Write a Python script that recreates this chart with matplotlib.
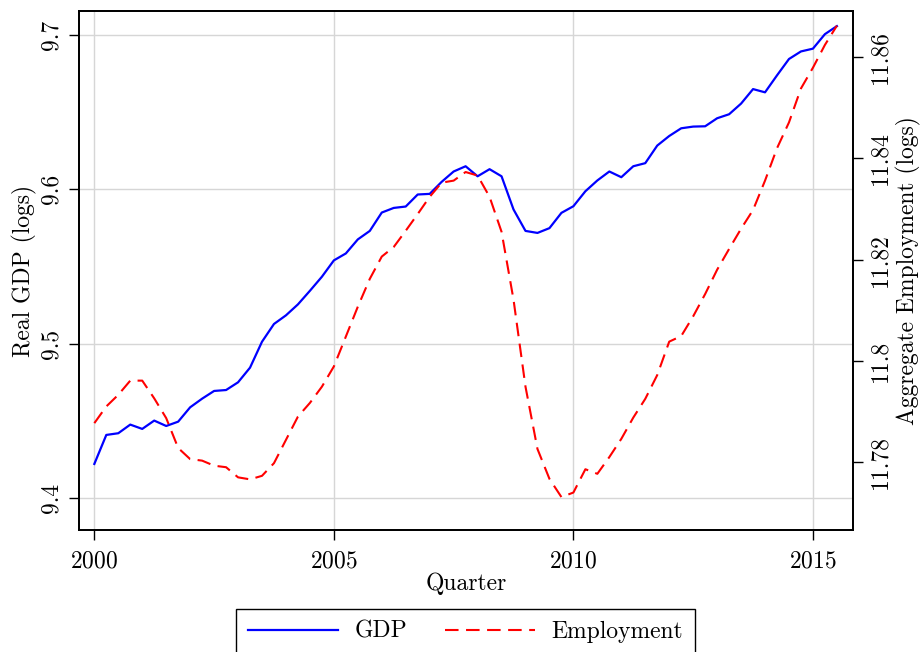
#!/usr/bin/env python3
"""
Real GDP and aggregate employment (logs), quarterly 2000Q1-2015Q3.

Two y axes: GDP on the left (solid blue), employment on the right (red dashed).
"""

import numpy as np
import pandas as pd
import matplotlib

matplotlib.use("Agg")
import matplotlib.pyplot as plt

# Quarterly index 2000Q1 .. 2015Q3
QUARTERS = pd.period_range("2000Q1", "2015Q3", freq="Q")

# Real GDP (logs), one row per year
GDP = [
    9.4221, 9.4409, 9.4420, 9.4476,  # 2000
    9.4448, 9.4502, 9.4467, 9.4495,  # 2001
    9.4588, 9.4644, 9.4694, 9.4700,  # 2002
    9.4750, 9.4845, 9.5013, 9.5128,  # 2003
    9.5184, 9.5255, 9.5343, 9.5434,  # 2004
    9.5540, 9.5585, 9.5676, 9.5731,  # 2005
    9.5850, 9.5880, 9.5889, 9.5967,  # 2006
    9.5971, 9.6049, 9.6116, 9.6150,  # 2007
    9.6085, 9.6131, 9.6085, 9.5870,  # 2008
    9.5731, 9.5718, 9.5749, 9.5848,  # 2009
    9.5891, 9.5988, 9.6058, 9.6116,  # 2010
    9.6079, 9.6150, 9.6170, 9.6284,  # 2011
    9.6346, 9.6396, 9.6407, 9.6409,  # 2012
    9.6461, 9.6487, 9.6556, 9.6650,  # 2013
    9.6629, 9.6739, 9.6845, 9.6894,  # 2014
    9.6912, 9.7006, 9.7058,          # 2015
]

# Aggregate employment (logs)
EMPLOYMENT = [
    11.7877, 11.7910, 11.7933, 11.7961,  # 2000
    11.7961, 11.7926, 11.7887, 11.7828,  # 2001
    11.7806, 11.7803, 11.7793, 11.7790,  # 2002
    11.7770, 11.7766, 11.7773, 11.7798,  # 2003
    11.7844, 11.7890, 11.7917, 11.7949,  # 2004
    11.7989, 11.8048, 11.8107, 11.8162,  # 2005
    11.8206, 11.8225, 11.8257, 11.8290,  # 2006
    11.8324, 11.8352, 11.8356, 11.8373,  # 2007
    11.8366, 11.8324, 11.8255, 11.8121,  # 2008
    11.7949, 11.7826, 11.7767, 11.7731,  # 2009
    11.7740, 11.7786, 11.7777, 11.7810,  # 2010
    11.7846, 11.7888, 11.7925, 11.7972,  # 2011
    11.8038, 11.8049, 11.8088, 11.8132,  # 2012
    11.8180, 11.8221, 11.8261, 11.8298,  # 2013
    11.8356, 11.8420, 11.8471, 11.8538,  # 2014
    11.8579, 11.8624, 11.8662,           # 2015
]

X_TICKS = [2000, 2005, 2010, 2015]
GDP_TICKS = [9.4, 9.5, 9.6, 9.7]
GDP_TICK_LABELS = ["9.4", "9.5", "9.6", "9.7"]
EMP_TICKS = [11.78, 11.80, 11.82, 11.84, 11.86]
EMP_TICK_LABELS = ["11.78", "11.8", "11.82", "11.84", "11.86"]

plt.rcParams["font.family"] = ["cmr10", "DejaVu Serif"]
plt.rcParams["axes.formatter.use_mathtext"] = True
plt.rcParams["font.size"] = 17


def quarter_to_float(periods):
    """2000Q1 -> 2000.0, 2000Q2 -> 2000.25, ..."""
    return np.array([p.year + (p.quarter - 1) / 4 for p in periods])


def main():
    x = quarter_to_float(QUARTERS)

    fig = plt.figure(figsize=(9.22, 6.52), dpi=100)
    ax = fig.add_axes([79 / 922, 1 - 530 / 652, (852.7 - 79) / 922, (530 - 11) / 652])
    ax2 = ax.twinx()

    (l_gdp,) = ax.plot(x, GDP, color="#0000ff", linewidth=1.6, label="GDP")
    (l_emp,) = ax2.plot(
        x, EMPLOYMENT, color="#ff0000", linewidth=1.5, dashes=(6.5, 3.6), label="Employment"
    )

    ax.set_xlim(1999.68, 2015.83)
    ax.set_ylim(9.3793, 9.7156)
    ax2.set_ylim(11.7666, 11.8691)

    ax.set_xticks(X_TICKS)
    ax.set_yticks(GDP_TICKS)
    ax.set_yticklabels(GDP_TICK_LABELS)
    ax2.set_yticks(EMP_TICKS)
    ax2.set_yticklabels(EMP_TICK_LABELS)

    ax.grid(True, color="#d6d6d6", linewidth=1.0)
    ax.set_axisbelow(True)

    for a in (ax, ax2):
        for sp in a.spines.values():
            sp.set_linewidth(1.3)
            sp.set_color("black")

    ax.tick_params(axis="x", direction="out", length=7, width=1.0, pad=8)
    ax.tick_params(axis="y", direction="out", length=7, width=1.0, pad=5, labelrotation=90)
    ax2.tick_params(axis="y", direction="out", length=7, width=1.0, pad=5, labelrotation=90)
    for lab in ax.get_yticklabels():
        lab.set_va("center")
    for lab in ax2.get_yticklabels():
        lab.set_va("center")

    ax.set_xlabel("Quarter", labelpad=0)
    ax.set_ylabel("Real GDP (logs)", labelpad=2)
    ax2.set_ylabel("Aggregate Employment (logs)", labelpad=3)

    leg = fig.legend(
        [l_gdp, l_emp],
        ["GDP", "Employment"],
        loc="upper center",
        bbox_to_anchor=(465.5 / 922, 1 - 609 / 652),
        ncol=2,
        frameon=True,
        fancybox=False,
        framealpha=1,
        edgecolor="black",
        borderpad=0.5,
        handlelength=3.8,
        handletextpad=0.7,
        columnspacing=1.6,
        borderaxespad=0,
    )
    leg.get_frame().set_linewidth(1.0)

    fig.savefig("out.png", dpi=100)
    plt.close(fig)


if __name__ == "__main__":
    main()
